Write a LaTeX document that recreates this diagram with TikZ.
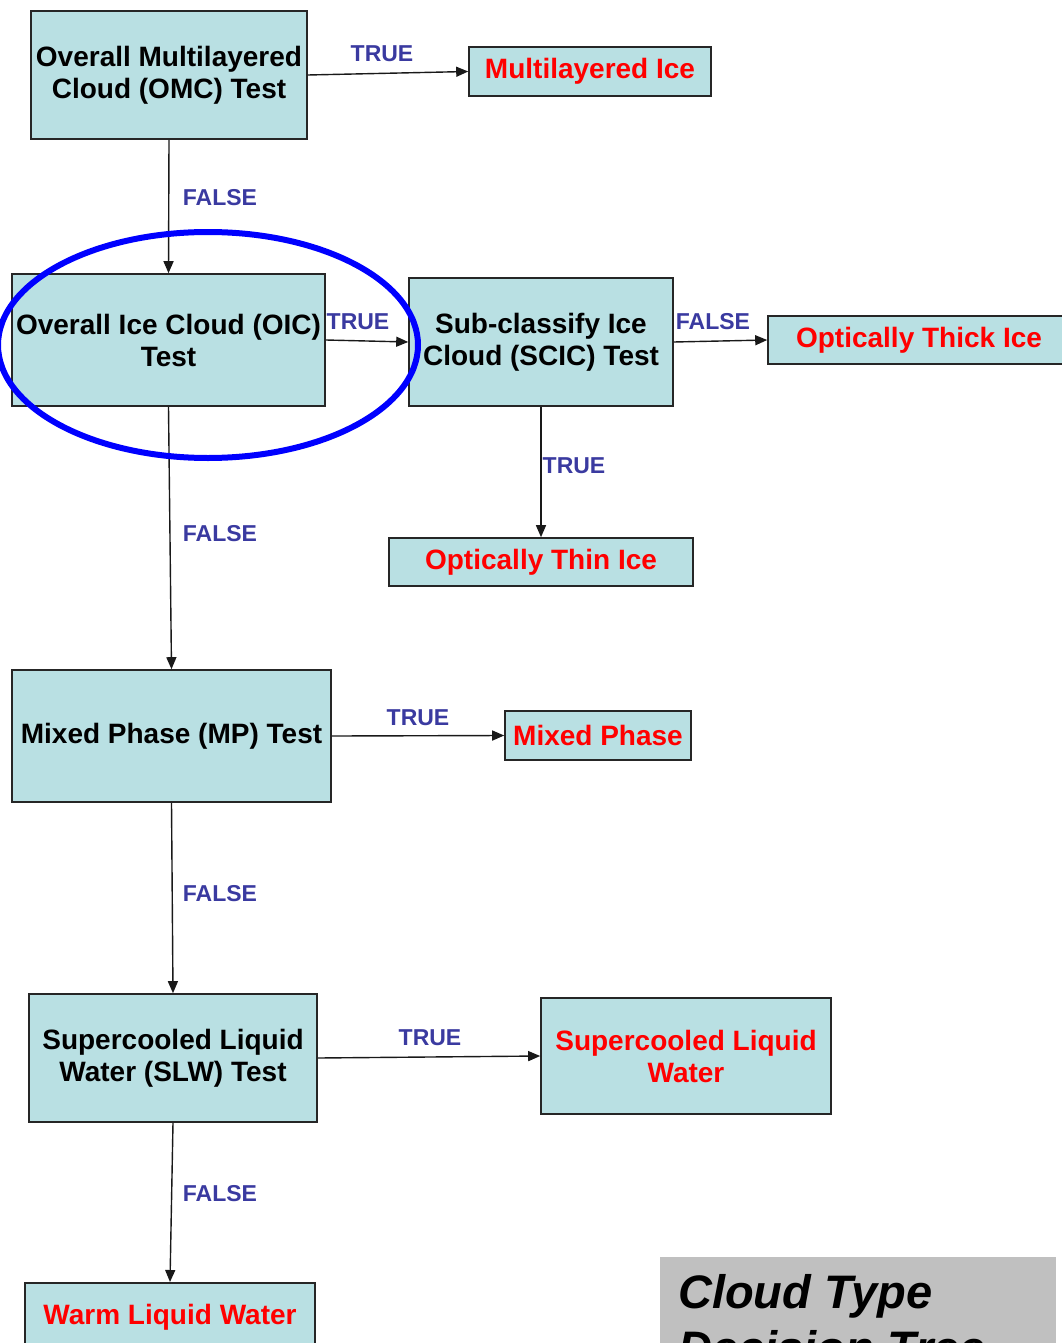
\documentclass[tikz,border=0pt]{standalone}
\usepackage{fontspec}
\setmainfont{Liberation Sans}
\usetikzlibrary{arrows.meta}
\definecolor{boxfill}{RGB}{185,224,227}
\definecolor{labelblue}{RGB}{58,58,160}
\definecolor{titlegray}{RGB}{192,192,192}
\begin{document}
\begin{tikzpicture}[x=1pt,y=-1pt,
  box/.style={draw=black!85, fill=boxfill, line width=1.6pt, inner sep=0pt,
    align=center, font=\fontsize{28}{32}\selectfont\bfseries},
  result/.style={box, text=red},
  lbl/.style={text=labelblue, font=\fontsize{23}{26}\selectfont\bfseries, inner sep=0pt},
  title/.style={anchor=base west, inner sep=0pt,
    font=\fontsize{47}{56}\selectfont\bfseries\itshape},
  link/.style={line width=1.4pt, draw=black!90, -{Triangle[length=12pt,width=10pt]}}]
\useasboundingbox (0,0) rectangle (1062,1343);
\clip (0,0) rectangle (1062,1343);

% tests
\node[box, minimum width=276, minimum height=128] (omc) at (169,75)
  {Overall Multilayered\\Cloud (OMC) Test};
\node[box, minimum width=313, minimum height=132] (oic) at (168.5,340)
  {Overall Ice Cloud (OIC)\\Test};
\node[box, minimum width=264, minimum height=128] (scic) at (541,342)
  {Sub-classify Ice\\Cloud (SCIC) Test};
\node[box, minimum width=319, minimum height=132] (mp) at (171.5,736)
  {Mixed Phase (MP) Test};
\node[box, minimum width=288, minimum height=128] (slw) at (173,1058)
  {Supercooled Liquid\\Water (SLW) Test};

% outcomes
\node[result, minimum width=242, minimum height=49] (ml) at (590,71.5) {Multilayered Ice};
\node[result, minimum width=302, minimum height=48] (thick) at (919,340) {Optically Thick Ice};
\node[result, minimum width=304, minimum height=48] (thin) at (541,562) {Optically Thin Ice};
\node[result, minimum width=186, minimum height=49] (mixed) at (598,735.5) {Mixed Phase};
\node[result, minimum width=290, minimum height=116] (sclw) at (686,1056)
  {Supercooled Liquid\\Water};
\node[result, anchor=north, minimum width=290, text height=30, text depth=60,
  inner ysep=12] (warm) at (170,1282) {Warm Liquid Water};

% title panel
\node[fill=titlegray, anchor=north west, minimum width=396, minimum height=160,
  inner sep=0pt] (titlepanel) at (660,1257) {};
\node[title] (titleone) at (678,1308) {Cloud Type};
\node[title] (titletwo) at (678,1364) {Decision Tree};

% connectors
\draw[link] (omc.east) -- (ml.west);
\draw[link] (omc.south) -- (oic.north);
\draw[link] (oic.east) -- (scic.west);
\draw[link] (scic.east) -- (thick.west);
\draw[link] (scic.south) -- (thin.north);
\draw[link] (oic.south) -- (mp.north);
\draw[link] (mp.east) -- (mixed.west);
\draw[link] (mp.south) -- (slw.north);
\draw[link] (slw.east) -- (sclw.west);
\draw[link] (slw.south) -- (warm.north);

% branch labels
\node[lbl] (t1) at (382,54) {TRUE};
\node[lbl] (f1) at (220,198) {FALSE};
\node[lbl] (t2) at (358,322) {TRUE};
\node[lbl] (f2) at (713,322) {FALSE};
\node[lbl] (t3) at (574,466) {TRUE};
\node[lbl] (f3) at (220,534) {FALSE};
\node[lbl] (t4) at (418,718) {TRUE};
\node[lbl] (f4) at (220,894) {FALSE};
\node[lbl] (t5) at (430,1038) {TRUE};
\node[lbl] (f5) at (220,1194) {FALSE};

% highlight ring
\draw[blue, line width=6pt] (208,345) ellipse [x radius=210, y radius=113];
\end{tikzpicture}
\end{document}
